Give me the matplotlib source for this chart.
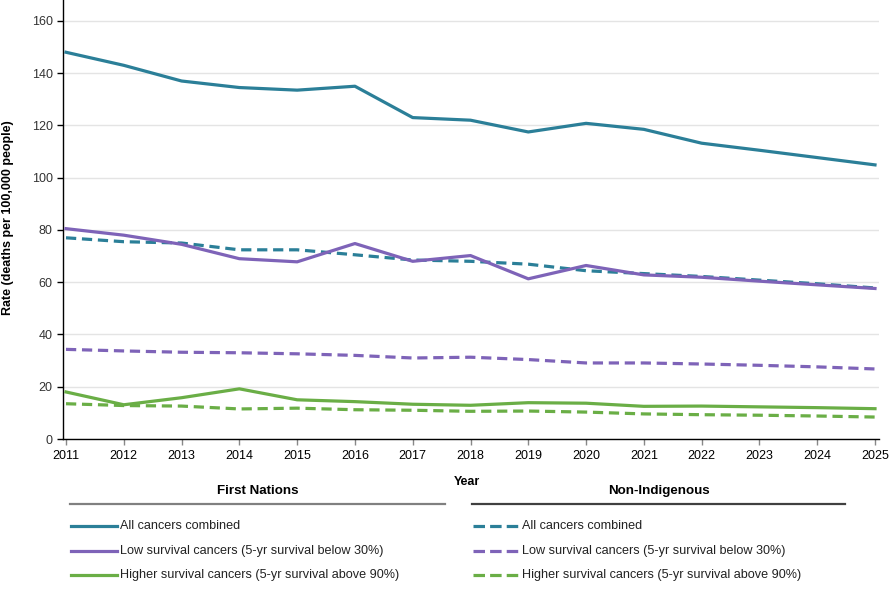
import matplotlib
matplotlib.use("Agg")
import matplotlib.pyplot as plt
from matplotlib.lines import Line2D

plt.rcParams['font.family'] = ['Liberation Sans', 'DejaVu Sans']

years = list(range(2011, 2026))

fn_all = [148, 143, 137, 134.5, 133.5, 135, 123, 122, 117.5, 120.8, 118.5, 113.2, 110.5, 107.7, 104.9]
fn_low = [80.5, 78, 74.5, 69, 67.8, 74.8, 68, 70.2, 61.3, 66.4, 62.8, 61.9, 60.4, 59, 57.6]
fn_high = [18, 13.1, 15.8, 19.2, 15, 14.3, 13.3, 12.9, 13.9, 13.7, 12.5, 12.6, 12.3, 12, 11.6]
ni_all = [77, 75.5, 75, 72.4, 72.4, 70.5, 68.5, 68, 66.9, 64.4, 63.3, 62.2, 60.8, 59.4, 57.8]
ni_low = [34.3, 33.7, 33.2, 33, 32.6, 32, 31, 31.3, 30.4, 29.1, 29.1, 28.7, 28.2, 27.6, 26.8]
ni_high = [13.5, 12.8, 12.6, 11.5, 11.8, 11.2, 11, 10.6, 10.7, 10.3, 9.6, 9.3, 9.1, 8.8, 8.4]

series_labels = ["All cancers combined",
                 "Low survival cancers (5-yr survival below 30%)",
                 "Higher survival cancers (5-yr survival above 90%)"]
colors = ["#2b7f98", "#7e63b8", "#6aae46"]
group_titles = ["First Nations", "Non-Indigenous"]

y_ticks = [0, 20, 40, 60, 80, 100, 120, 140, 160]

fig = plt.figure(figsize=(8.9, 6.0), dpi=100)
ax = fig.add_axes([63/890, 1 - 439/600, (879 - 63)/890, 439/600])

px_per_year = (875 - 66) / 14
ax.set_xlim(2011 - 3/px_per_year, 2025 + 4/px_per_year)
ax.set_ylim(0, 168)

fn = [fn_all, fn_low, fn_high]
ni = [ni_all, ni_low, ni_high]
lw = 2.3
for vals, c in zip(ni, colors):
    ax.plot(years, vals, color=c, lw=lw, dashes=(3.2, 1.8), solid_capstyle='butt', zorder=3)
for vals, c in zip(fn, colors):
    ax.plot(years, vals, color=c, lw=lw, zorder=4)

ax.set_yticks(y_ticks)
ax.set_xticks(years)
ax.set_xticklabels([str(y) for y in years])
ax.grid(axis='y', color='#e4e4e4', lw=1)
ax.set_axisbelow(True)
for s in ['top', 'right']:
    ax.spines[s].set_visible(False)
for s in ['left', 'bottom']:
    ax.spines[s].set_color('black')
    ax.spines[s].set_linewidth(1)
ax.tick_params(axis='both', labelsize=9, colors='#333333', length=4, width=1)
ax.tick_params(axis='x', colors='#888888', labelcolor='black', pad=4)
ax.tick_params(axis='y', colors='black', labelcolor='#333333')

fig.text(8/890, 1 - 218/600, "Rate (deaths per 100,000 people)", rotation=90,
         ha='center', va='center', fontsize=9, fontweight='bold')
fig.text(467/890, 1 - 482/600, "Year", ha='center', va='center', fontsize=9, fontweight='bold')

# legend
H = 600
W = 890
col_x = [(70, 445), (472, 845)]
rule_colors = ['#808080', '#404040']
row_y = [526, 551, 575]
for g, ((x0, x1), title, rc) in enumerate(zip(col_x, group_titles, rule_colors)):
    fig.text((x0 + x1) / 2 / W, 1 - 491/H, title, ha='center', va='center',
             fontsize=9.6, fontweight='bold')
    fig.add_artist(Line2D([x0/W, x1/W], [1 - 504/H, 1 - 504/H], color=rc, lw=1.6))
    for i, (lab, c) in enumerate(zip(series_labels, colors)):
        y = 1 - row_y[i]/H
        if g == 0:
            ln = Line2D([(x0 + 1)/W, (x0 + 47)/W], [y, y], color=c, lw=2.3)
        else:
            ln = Line2D([(x0 + 1)/W, (x0 + 47)/W], [y, y], color=c, lw=2.3,
                        dashes=(3.6, 1.6))
        fig.add_artist(ln)
        fig.text((x0 + 50)/W, y, lab, ha='left', va='center', fontsize=9.1, color='#222222')

fig.savefig("out.png", dpi=100)
